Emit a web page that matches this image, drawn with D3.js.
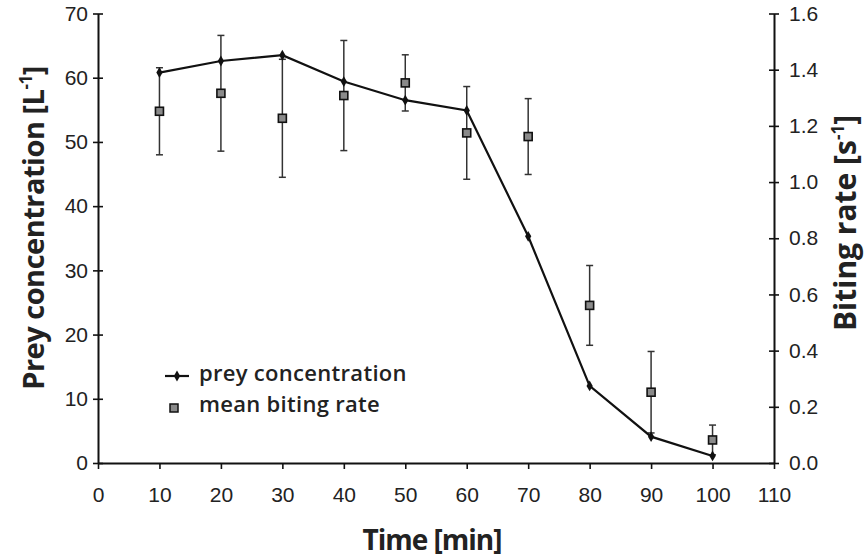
<!DOCTYPE html>
<html><head><meta charset="utf-8">
<script src="https://cdn.jsdelivr.net/npm/d3@7"></script>
<style>
body{margin:0;background:#fff;}
svg{display:block;}
</style></head>
<body>
<svg id="c" width="865" height="559"></svg>
<script>
const times = [10,20,30,40,50,60,70,80,90,100];
const preyConc = [60.8,62.6,63.5,59.4,56.5,54.9,35.3,12.0,4.1,1.1];
const bitingMean = [1.252,1.316,1.227,1.308,1.353,1.175,1.162,0.561,0.252,0.082];
const bitingErr = [0.155,0.206,0.21,0.196,0.1,0.165,0.135,0.142,0.145,0.053];
const xTicks = [0,10,20,30,40,50,60,70,80,90,100,110];
const leftTicks = [0,10,20,30,40,50,60,70];
const rightTicks = [0,0.2,0.4,0.6,0.8,1.0,1.2,1.4,1.6];

const svg = d3.select('#c');
const x = d3.scaleLinear().domain([0,110]).range([98,774]);
const yL = d3.scaleLinear().domain([0,70]).range([463,13.5]);
const yR = d3.scaleLinear().domain([0,1.6]).range([463,13.5]);
const tickFont = '"Liberation Sans", Arial, sans-serif';
const labFont = '"Open Sans", sans-serif';

// X axis
const gx = svg.append('g').attr('transform','translate(0,463)')
  .call(d3.axisBottom(x).tickValues(xTicks).tickSizeInner(6).tickSizeOuter(0).tickPadding(18).tickFormat(d3.format('d')));
// Left axis
const gl = svg.append('g').attr('transform','translate(98,0)')
  .call(d3.axisLeft(yL).tickValues(leftTicks).tickSizeInner(5).tickSizeOuter(0).tickPadding(5).tickFormat(d3.format('d')));
gl.selectAll('.tick line').attr('x1',-5).attr('x2',5);
// Right axis
const gr = svg.append('g').attr('transform','translate(774,0)')
  .call(d3.axisRight(yR).tickValues(rightTicks).tickSizeInner(5).tickSizeOuter(0).tickPadding(10).tickFormat(d3.format('.1f')));
gr.selectAll('.tick line').attr('x1',-5).attr('x2',5);

[gx,gl,gr].forEach(g=>{
  g.select('.domain').attr('stroke','#111').attr('stroke-width',2);
  g.selectAll('.tick line').attr('stroke','#111').attr('stroke-width',1.6);
  g.selectAll('.tick text').attr('fill','#222').style('font-family',tickFont).style('font-size','21px');
});

// Error bars
const eb = svg.append('g');
times.forEach((t,i)=>{
  const cx = x(t), top = yR(bitingMean[i]+bitingErr[i]), bot = yR(Math.max(0,bitingMean[i]-bitingErr[i]));
  eb.append('line').attr('x1',cx).attr('x2',cx).attr('y1',top).attr('y2',bot).attr('stroke','#333').attr('stroke-width',1.5);
  [top,bot].forEach(yy=>eb.append('line').attr('x1',cx-3.5).attr('x2',cx+3.5).attr('y1',yy).attr('y2',yy).attr('stroke','#333').attr('stroke-width',1.5));
});

// Prey line
svg.append('path').datum(times.map((t,i)=>[t,preyConc[i]]))
  .attr('d',d3.line().x(d=>x(d[0])).y(d=>yL(d[1])))
  .attr('fill','none').attr('stroke','#111').attr('stroke-width',2.2);
svg.append('g').selectAll('path').data(times.map((t,i)=>[t,preyConc[i]])).join('path')
  .attr('transform',d=>`translate(${x(d[0])},${yL(d[1])})`)
  .attr('d',d3.symbol(d3.symbolDiamond,34))
  .attr('fill','#111');

// Biting squares
svg.append('g').selectAll('rect').data(times.map((t,i)=>[t,bitingMean[i]])).join('rect')
  .attr('x',d=>x(d[0])-4).attr('y',d=>yR(d[1])-4).attr('width',8).attr('height',8)
  .attr('fill','#8a8a8a').attr('stroke','#111').attr('stroke-width',1.6);

// Legend
const lg = svg.append('g');
lg.append('line').attr('x1',165).attr('x2',189).attr('y1',376).attr('y2',376).attr('stroke','#111').attr('stroke-width',2.2);
lg.append('path').attr('transform','translate(177,376)').attr('d',d3.symbol(d3.symbolDiamond,34)).attr('fill','#111');
lg.append('text').attr('x',199).attr('y',373).attr('dy','0.35em').text('prey concentration')
  .style('font-family',labFont).style('font-weight',600).style('font-size','22px').style('letter-spacing','0.3px').attr('fill','#222');
lg.append('rect').attr('x',170).attr('y',404).attr('width',8).attr('height',8).attr('fill','#8a8a8a').attr('stroke','#111').attr('stroke-width',1.5);
lg.append('text').attr('x',199).attr('y',404).attr('dy','0.35em').text('mean biting rate')
  .style('font-family',labFont).style('font-weight',600).style('font-size','22px').style('letter-spacing','0.3px').attr('fill','#222');

// Axis titles
svg.append('text').attr('x',432).attr('y',540).attr('text-anchor','middle').attr('dy','0.35em')
  .style('font-family',labFont).style('font-weight',700).style('font-size','28px').style('letter-spacing','-1px').attr('fill','#222')
  .text('Time [min]');
const tl = svg.append('text').attr('transform','translate(34,228) rotate(-90)').attr('text-anchor','middle').attr('dy','0.35em')
  .style('font-family',labFont).style('font-weight',700).style('font-size','29px').style('letter-spacing','-0.5px').attr('fill','#222');
tl.append('tspan').text('Prey concentration [L');
tl.append('tspan').attr('dy','-12').style('font-size','17px').text('-1');
tl.append('tspan').attr('dy','12').text(']');
const tr = svg.append('text').attr('transform','translate(845,223) rotate(-90)').attr('text-anchor','middle').attr('dy','0.35em')
  .style('font-family',labFont).style('font-weight',700).style('font-size','30px').attr('fill','#222');
tr.append('tspan').text('Biting rate [s');
tr.append('tspan').attr('dy','-12').style('font-size','17px').text('-1');
tr.append('tspan').attr('dy','12').text(']');
</script>
</body></html>
